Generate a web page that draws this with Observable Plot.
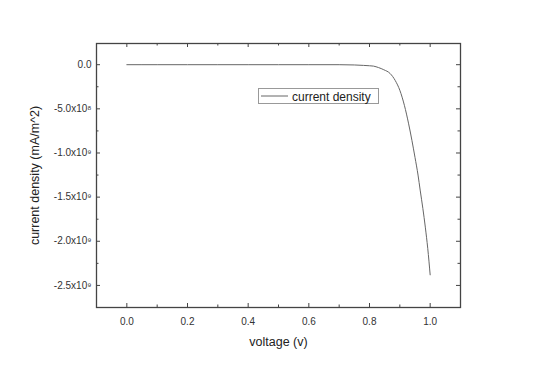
<!DOCTYPE html>
<html><head><meta charset="utf-8">
<script src="https://cdn.jsdelivr.net/npm/d3@7"></script>
<script src="https://cdn.jsdelivr.net/npm/@observablehq/plot@0.6"></script>
<style>body{margin:0;background:#fff;font-family:"Liberation Sans",Arial,sans-serif}</style>
</head><body><div id="chart"></div>
<script>
const voltage = [0, 0.1, 0.2, 0.3, 0.4, 0.5, 0.6, 0.7, 0.75, 0.78, 0.8, 0.813, 0.83, 0.847, 0.868, 0.885, 0.9, 0.915, 0.929, 0.94, 0.95, 0.96, 0.967, 0.976, 0.984, 0.992, 1.0];
const current = [0, 0, 0, 0, 0, 0, 0, 0, -3e6, -8e6, -1.2e7, -1.6e7, -3.3e7, -5.7e7, -1.0e8, -1.8e8, -2.9e8, -4.6e8, -6.7e8, -8.6e8, -1.05e9, -1.25e9, -1.42e9, -1.63e9, -1.84e9, -2.08e9, -2.38e9];
const xTicks = [0, 0.2, 0.4, 0.6, 0.8, 1.0];
const xTickLabels = ["0.0", "0.2", "0.4", "0.6", "0.8", "1.0"];
const xMinor = [0.1, 0.3, 0.5, 0.7, 0.9];
const yTicks = [0, -5e8, -1e9, -1.5e9, -2e9, -2.5e9];
const yTickLabels = ["0.0", "-5.0x10\u2078", "-1.0x10\u2079", "-1.5x10\u2079", "-2.0x10\u2079", "-2.5x10\u2079"];
const yMinor = [-2.5e8, -7.5e8, -1.25e9, -1.75e9, -2.25e9];
const xDomain = [-0.1, 1.1];
const yDomain = [-2.75e9, 2.4e8];
const seriesName = "current density";

const data = voltage.map((v, i) => ({v, j: current[i]}));
const tickStroke = "#444";
const plot = Plot.plot({
  width: 535, height: 369,
  marginLeft: 96, marginRight: 75, marginTop: 43, marginBottom: 62,
  style: {fontFamily: '"Liberation Sans", Arial, sans-serif', background: "#fff"},
  x: {domain: xDomain, label: null},
  y: {domain: yDomain, label: null},
  marks: [
    Plot.line(data, {x: "v", y: "j", stroke: "#666", strokeWidth: 1, curve: "monotone-x"}),
    Plot.ruleX(xTicks, {x: d => d, y1: yDomain[0], y2: yDomain[0], insetBottom: 4, stroke: tickStroke}),
    Plot.ruleX(xMinor, {x: d => d, y1: yDomain[0], y2: yDomain[0], insetBottom: 2.5, stroke: tickStroke}),
    Plot.ruleX(xTicks, {x: d => d, y1: yDomain[1], y2: yDomain[1], insetTop: 4, stroke: tickStroke}),
    Plot.ruleX(xMinor, {x: d => d, y1: yDomain[1], y2: yDomain[1], insetTop: 2.5, stroke: tickStroke}),
    Plot.ruleY(yTicks, {y: d => d, x1: xDomain[0], x2: xDomain[0], insetLeft: 4, stroke: tickStroke}),
    Plot.ruleY(yMinor, {y: d => d, x1: xDomain[0], x2: xDomain[0], insetLeft: 2.5, stroke: tickStroke}),
    Plot.ruleY(yTicks, {y: d => d, x1: xDomain[1], x2: xDomain[1], insetRight: 4, stroke: tickStroke}),
    Plot.ruleY(yMinor, {y: d => d, x1: xDomain[1], x2: xDomain[1], insetRight: 2.5, stroke: tickStroke}),
    Plot.axisX({ticks: xTicks, tickSize: 0, tickPadding: 10, tickFormat: (d, i) => xTickLabels[i], fontSize: 10, fill: "#333",
      label: "voltage (v)", labelAnchor: "center", labelArrow: "none", labelOffset: 38}),
    Plot.axisY({ticks: yTicks, tickSize: 0, tickPadding: 5, tickFormat: (d, i) => yTickLabels[i], fontSize: 10, fill: "#333",
      label: "current density (mA/m^2)", labelAnchor: "center", labelArrow: "none", labelOffset: 66}),
    Plot.frame({stroke: "#444", strokeWidth: 1.3})
  ]
});
document.getElementById("chart").append(plot);

const svg = d3.select(plot);
svg.selectAll("g[aria-label='x-axis label'] text, g[aria-label='y-axis label'] text")
  .attr("font-size", 12.5).attr("fill", "#222");

const lg = svg.append("g").attr("aria-label", "legend");
lg.append("rect").attr("x", 258.5).attr("y", 88.5).attr("width", 120).attr("height", 15)
  .attr("fill", "#fff").attr("stroke", "#999").attr("stroke-width", 1);
lg.append("line").attr("x1", 261).attr("x2", 288).attr("y1", 96).attr("y2", 96)
  .attr("stroke", "#666").attr("stroke-width", 1);
lg.append("text").attr("x", 292).attr("y", 100.5).attr("font-size", 12).attr("fill", "#222")
  .attr("text-anchor", "start")
  .attr("font-family", '"Liberation Sans", Arial, sans-serif').text(seriesName);
</script></body></html>
